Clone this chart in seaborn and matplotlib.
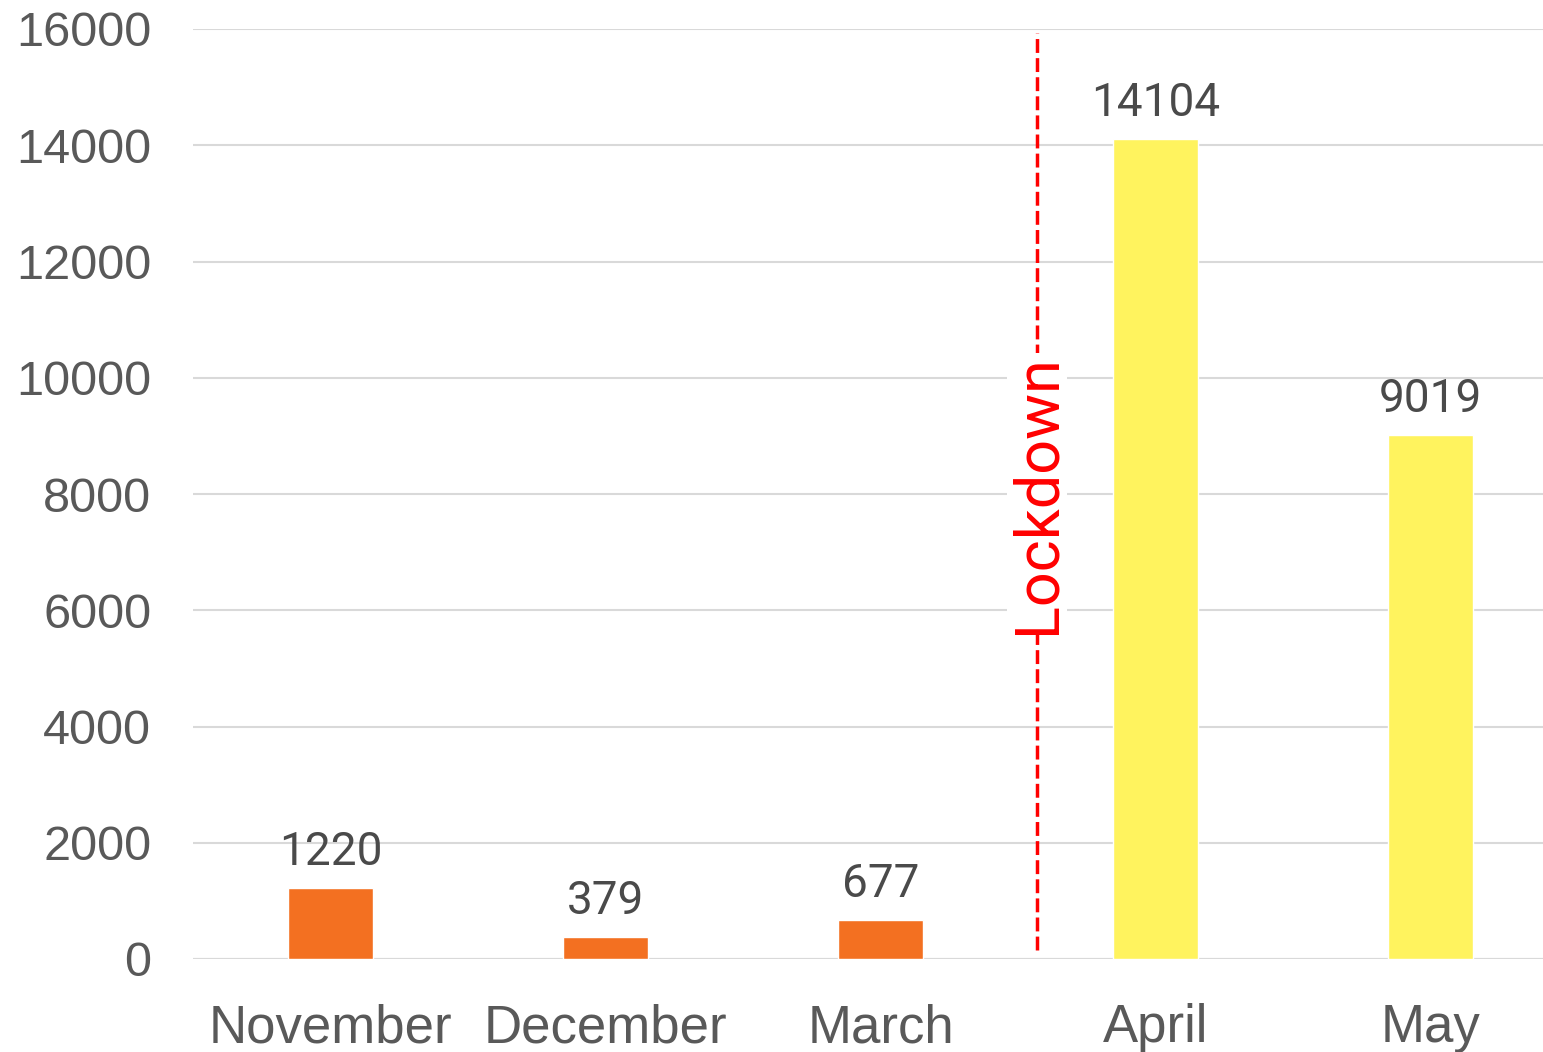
import numpy as np
import pandas as pd
import matplotlib
matplotlib.use('Agg')
import matplotlib.pyplot as plt
import seaborn as sns

# data
months = ['November', 'December', 'March', 'April', 'May']
counts = [1220, 379, 677, 14104, 9019]
period = ['before', 'before', 'before', 'after', 'after']
y_ticks = list(range(0, 16001, 2000))

bar_colors = {'before': '#F37021', 'after': '#FFF35E'}

df = pd.DataFrame({'month': months, 'count': counts, 'period': period})

sns.set_theme(style='white')
plt.rcParams['font.family'] = ['Liberation Sans', 'DejaVu Sans']

fig = plt.figure(figsize=(15.43, 10.52), dpi=100)
ax = fig.add_axes([193 / 1543, 1 - 959 / 1052, 1375 / 1543, 930 / 1052])

sns.barplot(data=df, x='month', y='count', hue='period', palette=bar_colors,
            dodge=False, width=0.31, legend=False, ax=ax, saturation=1)

ax.set_xlim(-0.5, 4.5)
ax.set_ylim(0, 16000)
ax.set_yticks(y_ticks)
ax.set_yticklabels([str(t) for t in y_ticks])
ax.yaxis.grid(True, color='#d9d9d9', linewidth=1.5)
ax.set_axisbelow(True)
for s in ax.spines.values():
    s.set_visible(False)
ax.axhline(0, color='#d9d9d9', linewidth=1.5, zorder=0)
ax.set_xlabel('')
ax.set_ylabel('')
ax.tick_params(axis='y', length=0, pad=30, labelsize=35, labelcolor='#595959')
ax.tick_params(axis='x', length=0, pad=32, labelsize=38, labelcolor='#595959')

# value labels
for i, v in enumerate(counts):
    ax.annotate(str(v), (i, v), xytext=(0, 10), textcoords='offset points',
                ha='center', va='bottom', fontsize=33, color='#4a4a4a',
                family=['Roboto', 'DejaVu Sans'])

# lockdown marker
ax.vlines(2.57, 150, 15930, colors='#FF0000', linestyles=(0, (4, 1.5)), linewidth=2.5, zorder=3)
ax.text(2.57, 8000, 'Lockdown', rotation=90, ha='center', va='center',
        fontsize=44, color='#FF0000', family=['Roboto', 'DejaVu Sans'],
        bbox=dict(facecolor='white', edgecolor='none', pad=1), zorder=4)

fig.savefig('out.png', dpi=100)
